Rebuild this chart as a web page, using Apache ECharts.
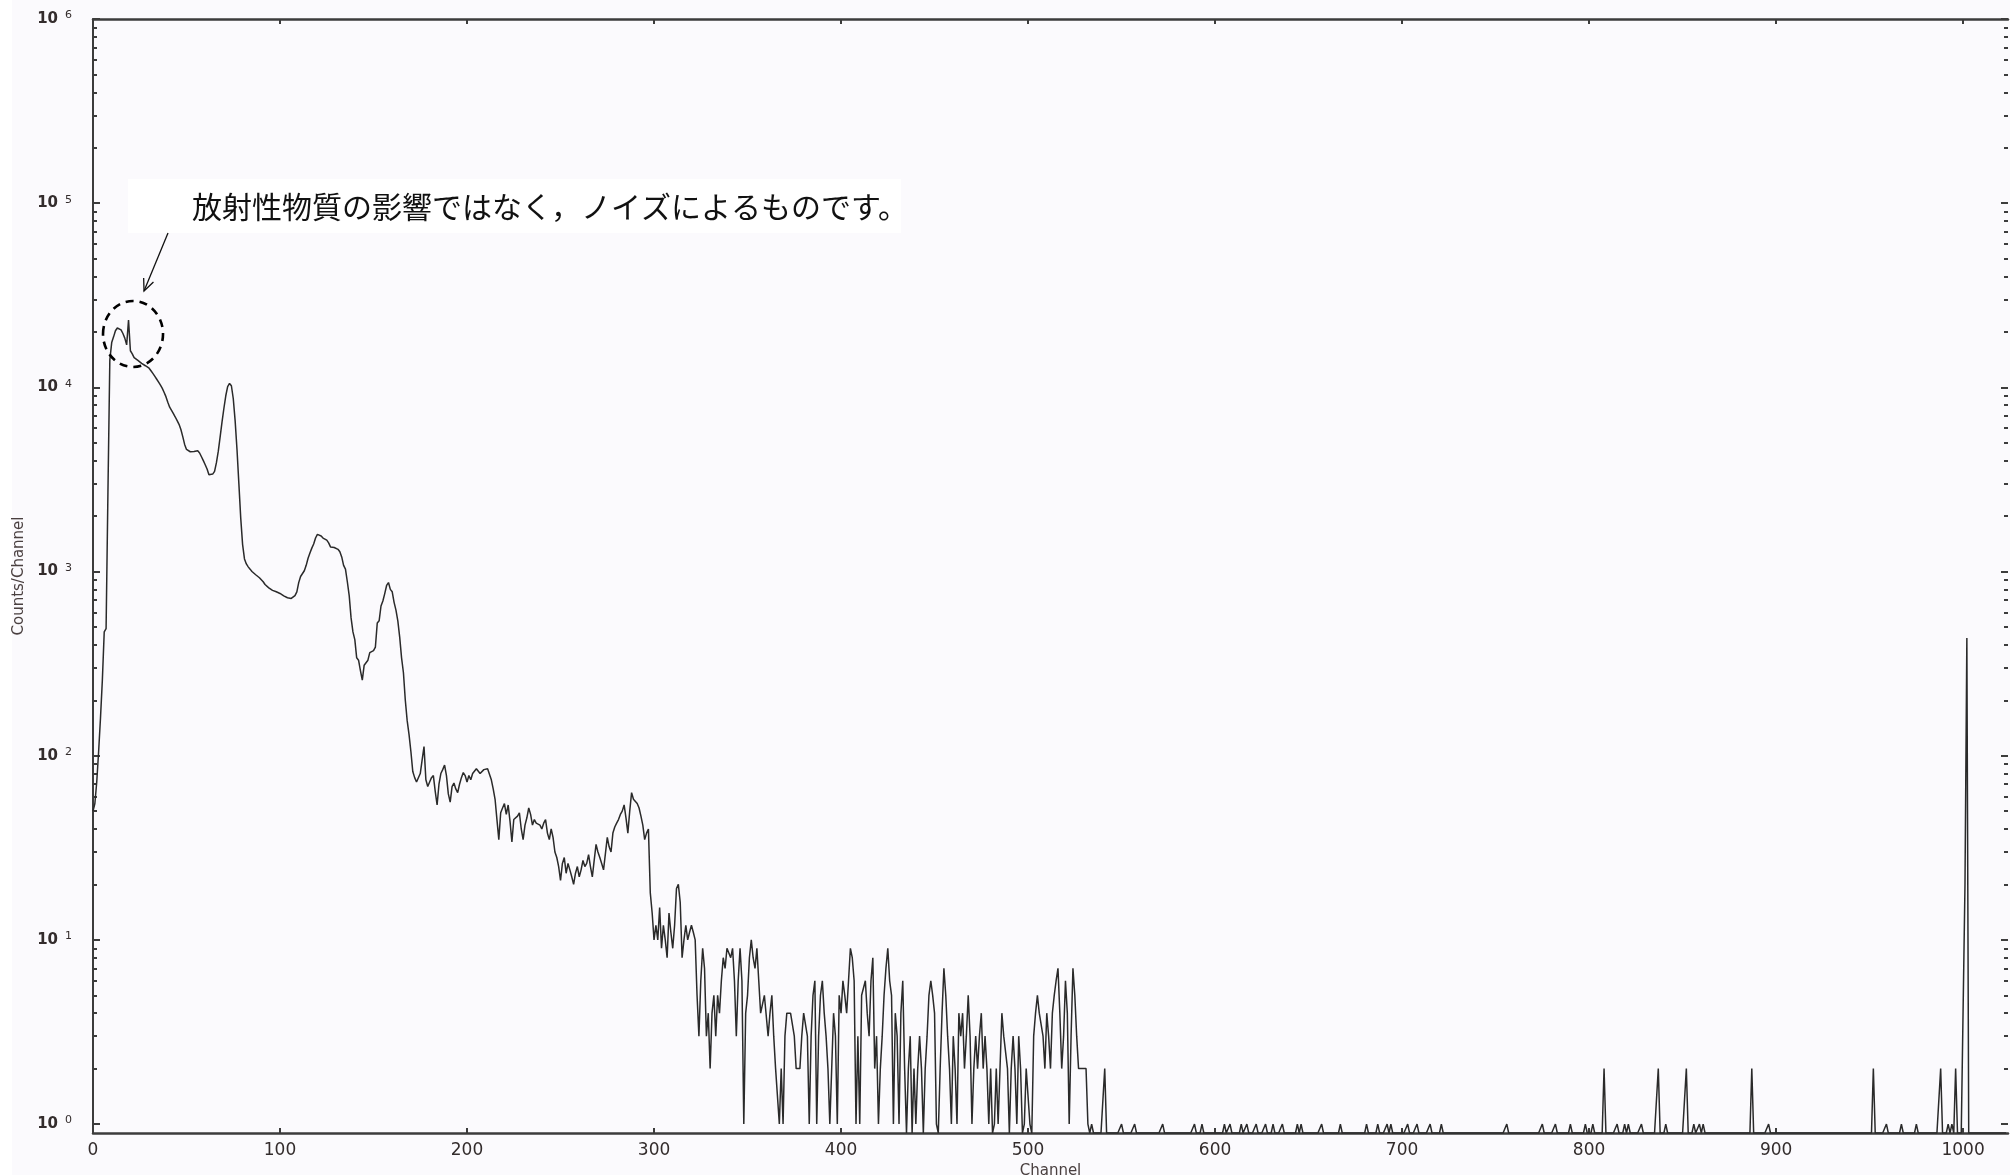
<!DOCTYPE html>
<html>
<head>
<meta charset="utf-8">
<script src="https://cdn.jsdelivr.net/npm/echarts@6/dist/echarts.min.js"></script>
<style>
html,body{margin:0;padding:0;background:#ffffff;}
#chart{width:2010px;height:1175px;}
</style>
</head>
<body>
<div id="chart"></div>
<script>
// ---- data: counts per channel ----
// channels 0 .. 299
const countsLow = [
  50, 55, 72, 105, 160, 257, 470, 490, 2750, 14100,
  17500, 18800, 20300, 21000, 21400, 20500, 19600, 18500, 17000, 23200,
  15800, 15200, 14500, 14200, 14000, 13800, 13500, 13300, 13100, 12900,
  12700, 12300, 11900, 11500, 11100, 10700, 10300, 9900, 9400, 8900,
  8300, 7800, 7500, 7200, 6900, 6600, 6300, 5900, 5400, 4900,
  4600, 4500, 4470, 4450, 4480, 4550, 4520, 4400, 4200, 4000,
  3800, 3600, 3350, 3300, 3380, 3500, 3900, 4500, 5400, 6500,
  7700, 9000, 10100, 10500, 10200, 8700, 6600, 4600, 3000, 1950,
  1400, 1170, 1100, 1060, 1030, 1000, 980, 960, 940, 925,
  915, 880, 850, 830, 815, 800, 790, 783, 776, 770,
  760, 750, 737, 725, 720, 716, 714, 718, 740, 776,
  870, 940, 955, 1010, 1080, 1180, 1260, 1340, 1410, 1520,
  1590, 1620, 1560, 1520, 1510, 1480, 1430, 1360, 1380, 1350,
  1330, 1320, 1280, 1200, 1080, 1030, 880, 740, 560, 470,
  427, 340, 330, 290, 257, 310, 305, 330, 363, 368,
  372, 389, 525, 540, 650, 692, 759, 840, 871, 800,
  776, 680, 617, 540, 440, 340, 282, 200, 155, 130,
  105, 82, 76, 72, 71, 80, 95, 112, 74, 68,
  72, 76, 78, 64, 54, 70, 80, 84, 89, 78,
  62, 56, 68, 71, 66, 63, 70, 76, 81, 78,
  72, 78, 74, 80, 80, 85, 83, 80, 82, 84,
  82, 85, 85, 74, 66, 58, 45, 35, 49, 52,
  55, 48, 54, 44, 34, 45, 44, 47, 49, 40,
  35, 42, 46, 52, 48, 42, 45, 43, 44, 42,
  40, 43, 45, 38, 35, 40, 36, 30, 28, 25,
  21, 26, 28, 23, 26, 24, 22, 20, 23, 25,
  22, 24, 27, 25, 26, 29, 25, 22, 27, 33,
  30, 28, 26, 24, 24, 36, 32, 30, 38, 41,
  43, 45, 48, 50, 54, 46, 38, 50, 63, 58,
  57, 55, 52, 47, 42, 35, 38, 40, 18, 14
];
// channels 300 .. 542
const countsMid = [
  10, 12, 10, 15, 9, 12, 10, 8, 14, 11,
  9, 12, 19, 20, 16, 8, 10, 12, 10, 11,
  12, 11, 10, 5, 3, 6, 9, 7, 3, 4,
  2, 4, 5, 3, 5, 4, 6, 8, 7, 9,
  9, 8, 9, 6, 3, 6, 9, 6, 1, 4,
  5, 8, 10, 8, 7, 9, 6, 4, 4, 5,
  5, 3, 4, 5, 3, 2, 2, 1, 2, 1,
  3, 4, 4, 4, 4, 3, 2, 2, 2, 3,
  4, 4, 3, 1, 3, 5, 6, 1, 3, 5,
  6, 4, 3, 2, 1, 2, 4, 3, 1, 5,
  4, 6, 5, 4, 6, 9, 8, 6, 1, 3,
  1, 5, 5, 6, 4, 3, 6, 8, 2, 3,
  1, 2, 3, 5, 7, 9, 6, 5, 1, 4,
  3, 1, 4, 6, 2, 0, 2, 3, 0, 2,
  1, 2, 3, 2, 0, 2, 3, 5, 6, 5,
  4, 1, 0, 2, 4, 7, 5, 3, 2, 1,
  3, 2, 1, 4, 3, 4, 2, 3, 5, 3,
  1, 2, 3, 2, 3, 4, 2, 3, 2, 1,
  2, 0, 1, 2, 1, 2, 4, 3, 3, 2,
  0, 2, 3, 2, 1, 3, 2, 0, 1, 2,
  2, 1, 0, 3, 4, 5, 4, 4, 3, 2,
  4, 3, 2, 4, 5, 6, 7, 4, 2, 3,
  6, 4, 1, 3, 7, 5, 3, 2, 2, 2,
  2, 2, 1, 0, 1, 0, 0, 0, 0, 0,
  0, 2, 0
];
const midStart = 300;
// isolated counts above channel 542 (all other channels are 0)
const tailChannels = [550, 557, 572, 589, 593, 605, 608, 614, 617, 622, 627, 631, 636, 644, 646,
  657, 667, 681, 687, 692, 694, 703, 708, 715, 721, 756, 775, 782, 790, 798, 802, 808,
  815, 819, 821, 828, 837, 841, 852, 856, 859, 861, 887, 896, 952, 959, 967, 975, 988,
  992, 994, 996, 1001, 1002];
const tailCounts = [1, 1, 1, 1, 1, 1, 1, 1, 1, 1, 1, 1, 1, 1, 1,
  1, 1, 1, 1, 1, 1, 1, 1, 1, 1, 1, 1, 1, 1, 1, 1, 2,
  1, 1, 1, 1, 2, 1, 2, 1, 1, 1, 2, 1, 2, 1, 1, 1, 2,
  1, 1, 2, 20, 435];
const channelTotal = 1024;

// ---- axes ----
const xTickValues = [0, 100, 200, 300, 400, 500, 600, 700, 800, 900, 1000];
const yDecades = [1, 10, 100, 1000, 10000, 100000, 1000000];
const yMinorSteps = [2, 3, 4, 5, 6, 7, 8, 9];
const yMin = 0.894;   // bottom of the plot sits a little below 10^0
const yMax = 1000000;

// ---- annotation ----
const noteText = '放射性物質の影響ではなく，ノイズによるものです。';
const noteChannel = 21.4;
const noteCount = 19500;

// build series
const counts = new Array(channelTotal).fill(0);
countsLow.forEach((v, i) => { counts[i] = v; });
countsMid.forEach((v, i) => { counts[midStart + i] = v; });
tailChannels.forEach((ch, i) => { counts[ch] = tailCounts[i]; });
const seriesData = counts.map((c, ch) => [ch, c > 0 ? c : yMin]);

const yMinor = [];
yDecades.slice(0, -1).forEach(d => yMinorSteps.forEach(s => yMinor.push(d * s)));

const axisColor = '#3c3c3c';
const textColor = '#332c2c';

function yAxisDef(pos, major, withLabel) {
  return {
    type: 'log', logBase: 10, min: yMin, max: yMax, position: pos,
    axisLine: { show: pos === 'left' && major, onZero: false, lineStyle: { color: axisColor, width: 2 } },
    axisTick: { show: true, inside: true, length: major ? 7 : 4,
      customValues: major ? yDecades : yMinor,
      lineStyle: { color: axisColor, width: 2 } },
    axisLabel: withLabel ? {
      show: true, customValues: yDecades, margin: 21,
      formatter: v => '{b|10}{s|' + Math.round(Math.log10(v)) + '}',
      rich: {
        b: { fontSize: 15, fontWeight: 'bold', fontFamily: 'DejaVu Sans', color: textColor, lineHeight: 18 },
        s: { fontSize: 11, fontFamily: 'DejaVu Sans', color: textColor, verticalAlign: 'top',
             lineHeight: 12, padding: [0, 0, 0, 7] }
      }
    } : { show: false },
    splitLine: { show: false },
    minorTick: { show: false },
    name: withLabel ? 'Counts/Channel' : '',
    nameLocation: 'middle', nameRotate: 90, nameGap: 56,
    nameTextStyle: { fontSize: 15, fontFamily: 'DejaVu Sans', color: '#4a4040' }
  };
}

const chart = echarts.init(document.getElementById('chart'), null, { renderer: 'canvas' });
chart.setOption({
  animation: false,
  backgroundColor: '#fbfafd',
  grid: { left: 93, right: 2, top: 19, bottom: 42, containLabel: false, outerBoundsMode: 'none' },
  xAxis: [
    {
      type: 'value', position: 'bottom', min: 0, max: channelTotal,
      axisLine: { show: true, onZero: false, lineStyle: { color: axisColor, width: 2.5 } },
      axisTick: { show: true, inside: true, length: 5, customValues: xTickValues,
                  lineStyle: { color: axisColor, width: 2 } },
      axisLabel: { show: true, customValues: xTickValues, margin: 9, fontSize: 17,
                   fontFamily: 'DejaVu Sans', color: textColor, formatter: v => String(v) },
      splitLine: { show: false },
      name: 'Channel', nameLocation: 'middle', nameGap: 24,
      nameTextStyle: { fontSize: 15, fontFamily: 'DejaVu Sans', color: '#4a4040' }
    },
    {
      type: 'value', position: 'top', min: 0, max: channelTotal,
      axisLine: { show: true, onZero: false, lineStyle: { color: axisColor, width: 2.5 } },
      axisTick: { show: true, inside: true, length: 5, customValues: xTickValues,
                  lineStyle: { color: axisColor, width: 2 } },
      axisLabel: { show: false },
      splitLine: { show: false }
    }
  ],
  yAxis: [
    yAxisDef('left', true, true),
    yAxisDef('left', false, false),
    yAxisDef('right', true, false),
    yAxisDef('right', false, false)
  ],
  series: [{
    type: 'line', xAxisIndex: 0, yAxisIndex: 0,
    data: seriesData, showSymbol: false, symbol: 'none', sampling: false,
    silent: true, clip: true,
    lineStyle: { color: '#2a2a2a', width: 1.5 }
  }]
});

// annotation, anchored on the noise spike near channel 20
const [cx, cy] = chart.convertToPixel({ xAxisIndex: 0, yAxisIndex: 0 }, [noteChannel, noteCount]);
const box = { x: 128, y: 179, w: 773, h: 54 };
const a0 = [168, box.y + box.h];
const a1 = [cx + 11, cy - 43];
const dx = a1[0] - a0[0], dy = a1[1] - a0[1];
const len = Math.hypot(dx, dy);
const ux = dx / len, uy = dy / len;
const headLen = 13, ang = 0.42;
function rot(x, y, t) { return [x * Math.cos(t) - y * Math.sin(t), x * Math.sin(t) + y * Math.cos(t)]; }
const h1 = rot(-ux, -uy, ang), h2 = rot(-ux, -uy, -ang);

chart.setOption({
  graphic: [
    { type: 'rect', left: 0, top: 0, shape: { x: 0, y: 0, width: 12, height: 1175 },
      style: { fill: '#ffffff' }, z: -10, silent: true },
    { type: 'rect', shape: { x: box.x, y: box.y, width: box.w, height: box.h },
      style: { fill: '#ffffff' }, z: 100, silent: true },
    { type: 'text', x: 192, y: box.y + box.h / 2 + 1,
      style: { text: noteText, fill: '#111111', font: '30px "Noto Sans CJK JP"',
               verticalAlign: 'middle', align: 'left' }, z: 101, silent: true },
    { type: 'line', shape: { x1: a0[0], y1: a0[1], x2: a1[0], y2: a1[1] },
      style: { stroke: '#111111', lineWidth: 1.3 }, z: 101, silent: true },
    { type: 'polyline', shape: { points: [
        [a1[0] + h1[0] * headLen, a1[1] + h1[1] * headLen], a1,
        [a1[0] + h2[0] * headLen, a1[1] + h2[1] * headLen]] },
      style: { stroke: '#111111', lineWidth: 1.3, fill: null }, z: 101, silent: true },
    { type: 'ellipse', shape: { cx: cx, cy: cy, rx: 30, ry: 33 },
      style: { stroke: '#000000', lineWidth: 2.6, fill: null, lineDash: [8, 6] }, z: 101, silent: true }
  ]
});
</script>
</body>
</html>
